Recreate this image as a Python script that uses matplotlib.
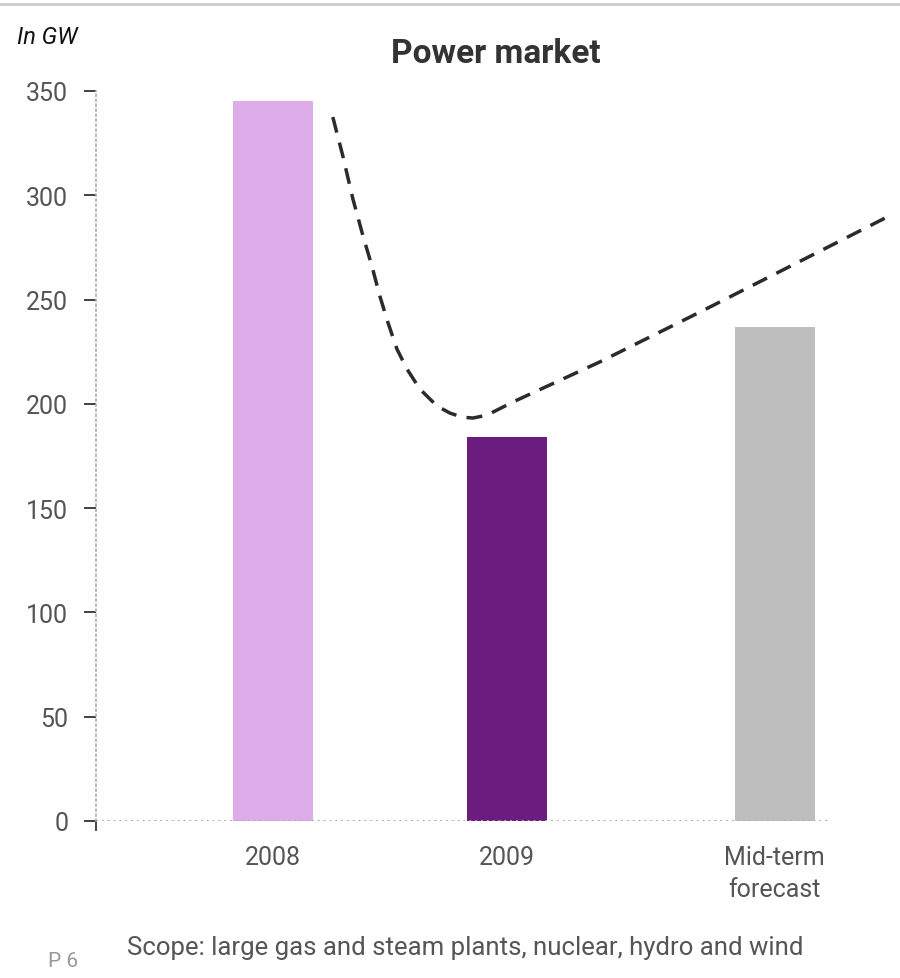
import numpy as np
import matplotlib.pyplot as plt

# data
categories = ["2008", "2009", "Mid-term\nforecast"]
capacity_gw = [345, 184, 237]
bar_colors = ["#DDADEA", "#6B1D7F", "#BEBEBE"]

# dashed trend line (x in category units, y in GW)
trend_x = [0.256, 0.299, 0.342, 0.385, 0.423, 0.457, 0.491, 0.530, 0.573,
           0.628, 0.701, 0.756, 0.810, 0.855, 0.915, 1.026, 1.397, 1.825, 2.650]
trend_y = [337.5, 318.8, 298.2, 280.5, 266.1, 251.7, 239.2, 226.3, 216.7,
           207.1, 199.0, 195.6, 193.6, 193.2, 194.6, 200.9, 220.1, 244.0, 291.0]

yticks = [0, 50, 100, 150, 200, 250, 300, 350]

plt.rcParams["font.family"] = ["Roboto", "DejaVu Sans"]

fig = plt.figure(figsize=(9, 9.79), dpi=100)
ax = fig.add_axes([96 / 900, 157 / 979, 804 / 900, 730 / 979])

x = np.array([0, 1, 2.145])
ax.bar(x, capacity_gw, width=0.34, color=bar_colors, zorder=2)

ax.plot(trend_x, trend_y, color="#2b2b2b", linewidth=2.5,
        dashes=(4.6, 3.0), solid_capstyle="butt", clip_on=False, zorder=3)

ax.set_xlim(-0.756, 2.68)
ax.set_ylim(0, 350)

for s in ["top", "right", "bottom"]:
    ax.spines[s].set_visible(False)
ax.spines["left"].set_linestyle((0, (1, 2)))
ax.spines["left"].set_color("#aaaaaa")
ax.spines["left"].set_linewidth(1.2)

# bottom dotted baseline stops short of the right edge
ax.axhline(0, xmax=(828 - 96) / 804, color="#aaaaaa", linewidth=1.4,
           linestyle=(0, (1, 2)), zorder=3)

ax.set_yticks(yticks)
ax.tick_params(axis="y", length=9, width=1.3, color="#333333",
               pad=11, labelsize=18, labelcolor="#555555")
ax.set_xticks(x)
ax.set_xticklabels(categories)
ax.tick_params(axis="x", length=0, pad=17, labelsize=18, labelcolor="#555555")
for lbl in ax.get_xticklabels():
    lbl.set_verticalalignment("top")
    lbl.set_linespacing(1.45)

# little corner tick at zero
ax.plot([0, 0], [0, -0.012], transform=ax.transAxes, color="#333333",
        linewidth=1.3, clip_on=False)

fig.text(17 / 900, 1 - 37 / 979, "In GW", fontsize=17, style="italic",
         color="#111111", va="center", ha="left")
fig.text(496 / 900, 1 - 54 / 979, "Power market", fontsize=24,
         fontweight="bold", color="#333333", va="center", ha="center")
fig.text(127 / 900, 1 - 948 / 979,
         "Scope: large gas and steam plants, nuclear, hydro and wind",
         fontsize=18.5, color="#555555", va="center", ha="left")
fig.text(48 / 900, 1 - 962 / 979, "P 6", fontsize=15, color="#999999",
         va="center", ha="left")

# thin grey rule across the top
fig.add_artist(plt.Line2D([0, 1], [1 - 5 / 979, 1 - 5 / 979],
                          color="#cccccc", linewidth=2))

fig.savefig("out.png", dpi=100)
